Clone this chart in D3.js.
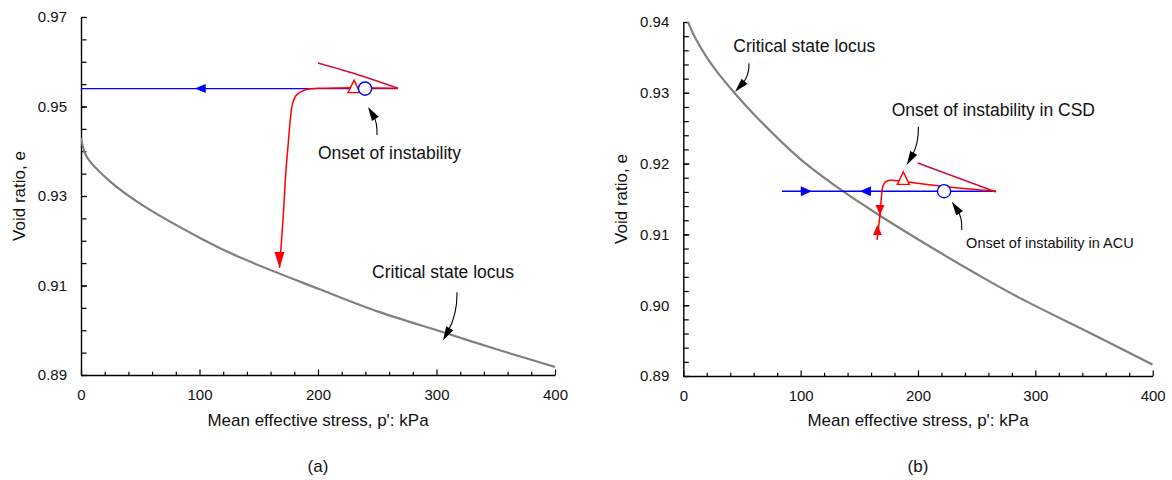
<!DOCTYPE html>
<html>
<head>
<meta charset="utf-8">
<script src="https://cdn.jsdelivr.net/npm/d3@7"></script>
<style>
  body { margin: 0; background: #fff; }
  text { font-family: 'Liberation Sans', Arial, sans-serif; }
</style>
</head>
<body>
<svg id="chart" width="1172" height="480"></svg>
<script>
// ---- data (p' in kPa, void ratio e) ----
let xTicks = [0, 100, 200, 300, 400]
let yTicksA = [0.89, 0.91, 0.93, 0.95, 0.97]
let yTicksB = [0.89, 0.90, 0.91, 0.92, 0.93, 0.94]

// panel (a)
let cslA = [[0, 0.9430], [5, 0.9387], [23, 0.9336], [51.5, 0.9280], [102, 0.9204], [133, 0.9164],
  [201, 0.9092], [251.5, 0.9041], [305, 0.8996], [350, 0.8958], [400, 0.8918]]
let blueA = [[267.5, 0.9540], [0, 0.9540]]
let redTopA = [[200, 0.9597], [235, 0.9570], [267.5, 0.9541]]
let redA = [[267.5, 0.9541], [230, 0.9542], [205, 0.9541], [190.4, 0.9538], [182, 0.9526],
  [178.6, 0.9507], [176.9, 0.9477], [174.9, 0.9418], [173, 0.9358], [170.5, 0.9248], [167.5, 0.9139]]
let triA = [230.4, 0.9541]
let circA = [239.7, 0.9540]

// panel (b)
let cslB = [[4, 0.9400], [10, 0.9378], [20, 0.9350], [30, 0.9327], [42, 0.9303], [64, 0.9263],
  [100, 0.9206], [136, 0.9161], [168, 0.9126], [213, 0.9080], [250, 0.9044], [287, 0.9010],
  [350, 0.8958], [400, 0.8916]]
let blueB = [[84, 0.9161], [266.5, 0.9161]]
let redTopB = [[199.8, 0.9201], [266.5, 0.9160]]
let redB = [[266.5, 0.9161], [224.5, 0.91674], [193.2, 0.91736], [184.7, 0.91754], [176.2, 0.91764],
  [171.9, 0.91736], [170, 0.91674], [169.1, 0.9158], [167.6, 0.91274], [165.1, 0.90921]]
let triB = [187.5, 0.9177]
let circB = [222.2, 0.9161]

let colors = {blue: '#0000ff', red: '#ff0000', redTop: '#cc1040', csl: '#808080', ink: '#000'}

let panels = [
  {
    id: 'a', xRange: [81, 555], yRange: [375, 17], yDomain: [0.89, 0.97], yTicks: yTicksA, yMinorStep: 0.005,
    csl: cslA, blue: blueA, redTop: redTopA, red: redA, tri: triA, circ: circA,
    pathArrows: [
      {at: [96, 0.9540], dir: 'left', color: colors.blue, len: 11, hw: 4.5},
      {at: [167.5, 0.9139], dir: 'down', color: colors.red, len: 16, hw: 5}
    ],
    notes: [
      {text: 'Onset of instability', at: [200, 0.93826], size: 17.5, tail: [249.8, 0.9436], tip: [242.2, 0.9499]},
      {text: 'Critical state locus', at: [245.6, 0.91167], size: 17.5, tail: [317.3, 0.9085], tip: [305.5, 0.8977]}
    ],
    yTitleX: 25, label: '(a)'
  },
  {
    id: 'b', xRange: [683.3, 1152.7], yRange: [376, 22], yDomain: [0.89, 0.94], yTicks: yTicksB, yMinorStep: 0.002,
    csl: cslB, blue: blueB, redTop: redTopB, red: redB, tri: triB, circ: circB,
    pathArrows: [
      {at: [109.5, 0.9161], dir: 'right', color: colors.blue, len: 11, hw: 5},
      {at: [150.5, 0.9161], dir: 'left', color: colors.blue, len: 11, hw: 5},
      {at: [167.6, 0.91274], dir: 'down', color: colors.red, len: 10, hw: 4.5},
      {at: [165.4, 0.91133], dir: 'up', color: colors.red, len: 10, hw: 4.5}
    ],
    notes: [
      {text: 'Critical state locus', at: [42.6, 0.9358], size: 17.5, tail: [56, 0.93417], tip: [44.1, 0.93016]},
      {text: 'Onset of instability in CSD', at: [177.6, 0.92677], size: 17.5, tail: [200.3, 0.92521], tip: [190.4, 0.9198]},
      {text: 'Onset of instability in ACU', at: [241, 0.90804], size: 14.5, tail: [237.3, 0.91062], tip: [228.8, 0.91462]}
    ],
    yTitleX: 627, label: '(b)'
  }
]

let svg = d3.select('#chart')

function arrowHead (g, px, py, angle, len, hw, color) {
  // tip at (px, py), pointing along angle (radians)
  let c = Math.cos(angle)
  let s = Math.sin(angle)
  let bx = px - c * len
  let by = py - s * len
  let pts = [[px, py], [bx - s * hw, by + c * hw], [bx + s * hw, by - c * hw]]
  g.append('path')
    .attr('d', 'M' + pts.map(p => p.join(',')).join('L') + 'Z')
    .attr('fill', color)
    .attr('stroke', 'none')
}

function drawPanel (cfg) {
  let g = svg.append('g').attr('class', 'panel-' + cfg.id)
  let x = d3.scaleLinear().domain([0, 400]).range(cfg.xRange)
  let y = d3.scaleLinear().domain(cfg.yDomain).range(cfg.yRange)
  let line = d3.line().x(d => x(d[0])).y(d => y(d[1]))
  let smooth = d3.line().x(d => x(d[0])).y(d => y(d[1])).curve(d3.curveCatmullRom.alpha(0.5))

  g.append('clipPath').attr('id', 'clip-' + cfg.id)
    .append('rect')
    .attr('x', cfg.xRange[0])
    .attr('y', cfg.yRange[1])
    .attr('width', cfg.xRange[1] - cfg.xRange[0])
    .attr('height', cfg.yRange[0] - cfg.yRange[1])

  // minor ticks
  let xMinor = d3.range(0, 401, 20).filter(v => xTicks.indexOf(v) === -1)
  g.append('g')
    .attr('transform', 'translate(0,' + cfg.yRange[0] + ')')
    .call(d3.axisBottom(x).tickValues(xMinor).tickSize(-3.3).tickFormat(''))
    .call(a => a.select('.domain').remove())
  let nMinor = Math.round((cfg.yDomain[1] - cfg.yDomain[0]) / cfg.yMinorStep)
  let yMinor = d3.range(0, nMinor + 1).map(i => cfg.yDomain[0] + i * cfg.yMinorStep)
  g.append('g')
    .attr('transform', 'translate(' + cfg.xRange[0] + ',0)')
    .call(d3.axisLeft(y).tickValues(yMinor).tickSize(-5.5).tickFormat(''))
    .call(a => a.select('.domain').remove())

  // main axes
  let xAxis = g.append('g')
    .attr('transform', 'translate(0,' + cfg.yRange[0] + ')')
    .call(d3.axisBottom(x).tickValues(xTicks).tickSize(-5.5).tickSizeOuter(0).tickPadding(14).tickFormat(d3.format('d')))
  let yAxis = g.append('g')
    .attr('transform', 'translate(' + cfg.xRange[0] + ',0)')
    .call(d3.axisLeft(y).tickValues(cfg.yTicks).tickSize(-6).tickSizeOuter(0).tickPadding(14).tickFormat(d3.format('.2f')))
  g.selectAll('.tick line').attr('stroke', colors.ink).attr('stroke-width', 1.2)
  ;[xAxis, yAxis].forEach(a => {
    a.select('.domain').attr('stroke', colors.ink).attr('stroke-width', 1.4)
    a.selectAll('text')
      .attr('fill', '#111')
      .style('font-size', '15px')
      .style('font-family', "'Liberation Sans', Arial, sans-serif")
  })

  // axis titles
  let cx = (cfg.xRange[0] + cfg.xRange[1]) / 2
  let cy = (cfg.yRange[0] + cfg.yRange[1]) / 2
  g.append('text')
    .text('Mean effective stress, p\': kPa')
    .attr('x', cx)
    .attr('y', 426)
    .attr('text-anchor', 'middle')
    .style('font-size', '17px')
    .attr('fill', '#111')
  g.append('text')
    .text('Void ratio, e')
    .attr('transform', 'translate(' + cfg.yTitleX + ',' + cy + ') rotate(-90)')
    .attr('text-anchor', 'middle')
    .style('font-size', '17px')
    .attr('fill', '#111')
  g.append('text')
    .text(cfg.label)
    .attr('x', cx)
    .attr('y', 472)
    .attr('text-anchor', 'middle')
    .style('font-size', '17px')
    .attr('fill', '#111')

  let plot = g.append('g').attr('clip-path', 'url(#clip-' + cfg.id + ')')

  // critical state locus
  plot.append('path')
    .attr('d', smooth(cfg.csl))
    .attr('fill', 'none')
    .attr('stroke', colors.csl)
    .attr('stroke-width', 2.2)

  // stress paths
  plot.append('path')
    .attr('d', line(cfg.blue))
    .attr('fill', 'none')
    .attr('stroke', colors.blue)
    .attr('stroke-width', 1.4)
  plot.append('path')
    .attr('d', smooth(cfg.redTop))
    .attr('fill', 'none')
    .attr('stroke', colors.redTop)
    .attr('stroke-width', 1.6)
  plot.append('path')
    .attr('d', smooth(cfg.red))
    .attr('fill', 'none')
    .attr('stroke', colors.red)
    .attr('stroke-width', 1.5)

  let dirs = {left: Math.PI, right: 0, up: -Math.PI / 2, down: Math.PI / 2}
  cfg.pathArrows.forEach(a => {
    arrowHead(plot, x(a.at[0]), y(a.at[1]), dirs[a.dir], a.len, a.hw, a.color)
  })

  // instability markers
  plot.append('path')
    .attr('d', 'M0,-8L6,4.5L-6,4.5Z')
    .attr('transform', 'translate(' + x(cfg.tri[0]) + ',' + y(cfg.tri[1]) + ')')
    .attr('fill', '#fff')
    .attr('stroke', colors.red)
    .attr('stroke-width', 1.4)
  plot.append('circle')
    .attr('cx', x(cfg.circ[0]))
    .attr('cy', y(cfg.circ[1]))
    .attr('r', 6.6)
    .attr('fill', '#fff')
    .attr('stroke', colors.blue)
    .attr('stroke-width', 1.4)

  // annotations
  cfg.notes.forEach(n => {
    g.append('text')
      .text(n.text)
      .attr('x', x(n.at[0]))
      .attr('y', y(n.at[1]))
      .style('font-size', n.size + 'px')
      .attr('fill', '#111')
    let tx = x(n.tail[0])
    let ty = y(n.tail[1])
    let hx = x(n.tip[0])
    let hy = y(n.tip[1])
    let kx = tx + 0.5
    let ky = ty + (hy - ty) * 0.45
    let ang = Math.atan2(hy - ky, hx - kx)
    let ex = hx - Math.cos(ang) * 10
    let ey = hy - Math.sin(ang) * 10
    g.append('path')
      .attr('d', 'M' + tx + ',' + ty + 'Q' + kx + ',' + ky + ' ' + ex + ',' + ey)
      .attr('fill', 'none')
      .attr('stroke', colors.ink)
      .attr('stroke-width', 1.1)
    arrowHead(g, hx, hy, ang, 14, 4, colors.ink)
  })
}

panels.forEach(drawPanel)
</script>
</body>
</html>
